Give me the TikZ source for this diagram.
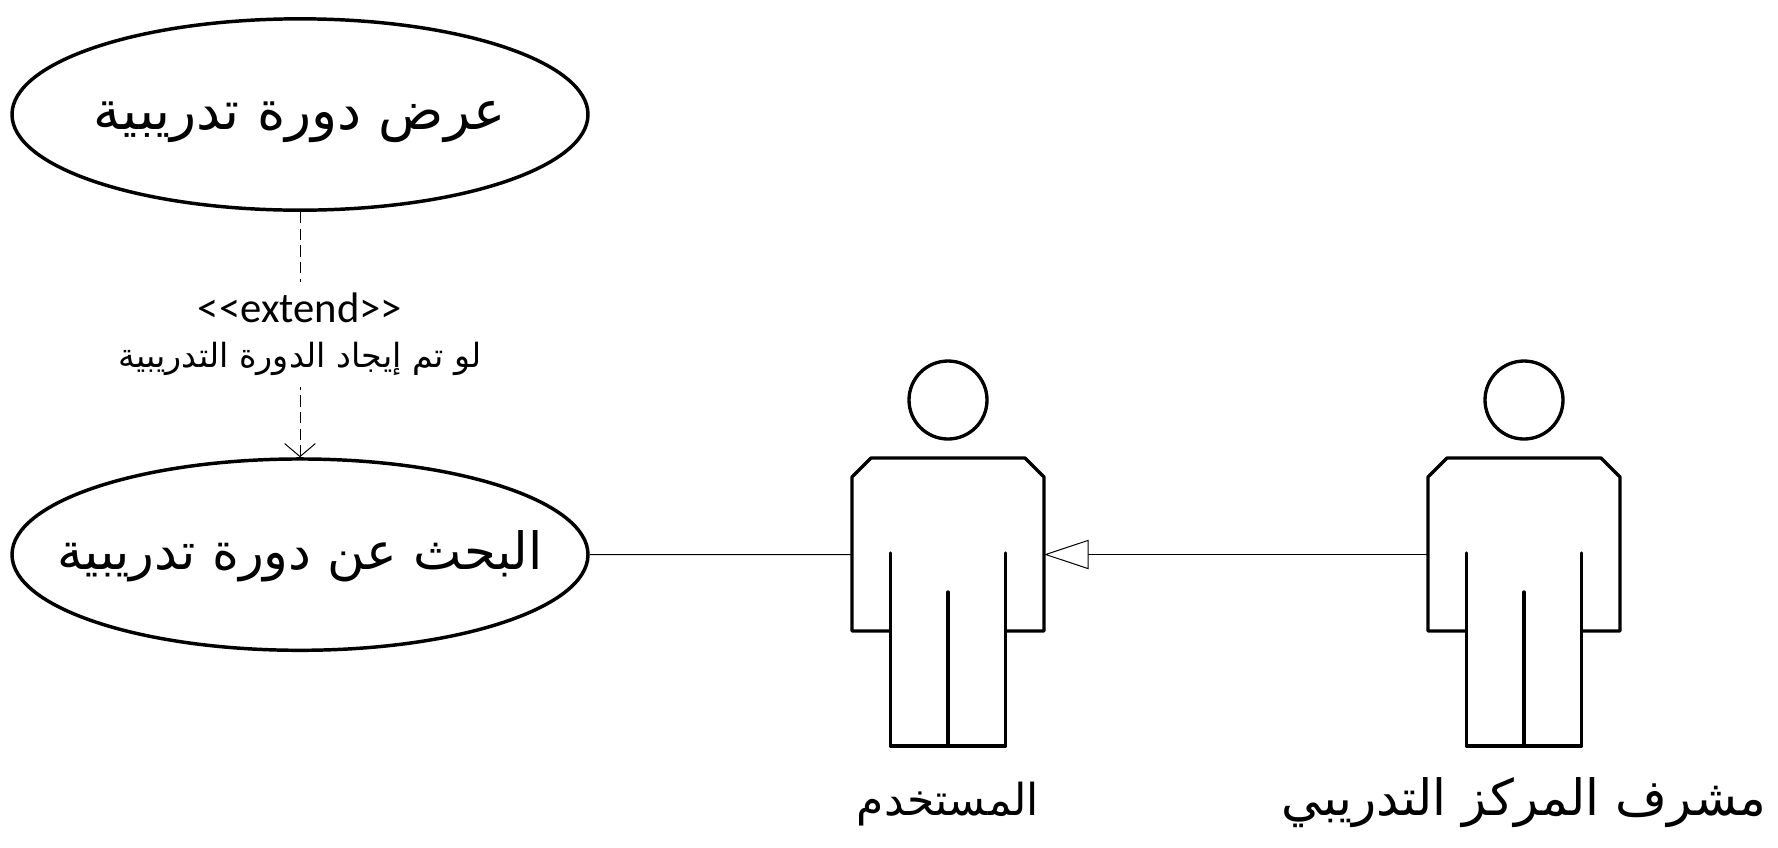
\documentclass[tikz,border=0pt]{standalone}
\usepackage{fontspec}
\setmainfont{Carlito}
\newfontfamily\arabicfont[Script=Arabic]{DejaVu Sans}
\TeXXeTstate=1
\usetikzlibrary{arrows.meta,positioning,shapes.geometric}
\tikzset{
  usecase/.style={ellipse,draw,line width=2.6pt,minimum width=432pt,minimum height=143.5pt,
                  inner xsep=-50pt,inner ysep=-10pt,text height=28pt,text depth=6pt},
  actorname/.style={inner sep=0pt,text height=32pt,text depth=8pt},
  link/.style={line width=0.75pt},
  actor/.pic={
    \draw[line width=2.5pt,line join=round,line cap=round] (0,400) circle[radius=39];
    \draw[line width=2.5pt,line join=round,line cap=round]
      (-57.5,631) -- (-96,631) -- (-96,477) -- (-77,458) -- (77,458) -- (96,477) -- (96,631) -- (57.5,631);
    \draw[line width=2.5pt,line join=round,line cap=round]
      (-57.5,553) -- (-57.5,746) -- (57.5,746) -- (57.5,553);
    \draw[line width=2.5pt,line cap=round] (0,592) -- (0,746);
    \coordinate (-hand) at (-96,554.5);
    \coordinate (-arm) at (96,554.5);
    \coordinate (-foot) at (0,746);
  }
}
\begin{document}
\begin{tikzpicture}[x=0.75pt,y=-0.75pt,node distance=184pt and 100pt]
\useasboundingbox (0,0) rectangle (1778,847);
\node[usecase,font=\arabicfont\fontsize{40.5}{46}\selectfont] (view) at (300,114.5) {\beginR عرض دورة تدريبية\endR};
\node[usecase,below=of view,font=\arabicfont\fontsize{38.5}{46}\selectfont] (search) {\beginR البحث عن دورة تدريبية\endR};
\pic (user) at (948,0) {actor};
\pic (admin) at (1524,0) {actor};
\node[actorname,below=20pt of user-foot,font=\arabicfont\fontsize{33}{40}\selectfont] (username) {\beginR المستخدم\endR};
\node[actorname,below=20pt of admin-foot,font=\arabicfont\fontsize{37.5}{44}\selectfont] (adminname) {\beginR مشرف المركز التدريبي\endR};
\draw[link,dash pattern=on 8.5pt off 4pt,-{Straight Barb[length=9.75pt,width=23pt]}] (view) -- node[fill=white,align=center,inner xsep=2pt,inner ysep=8pt,font=\fontsize{32}{36}\selectfont]
  {<{}<extend>{}>\\[-2pt]{\arabicfont\fontsize{25}{30}\selectfont\beginR لو تم إيجاد الدورة التدريبية\endR}} (search);
\draw[link] (search) -- (user-hand);
\draw[link,-{Triangle[open,length=33.5pt,width=22pt]}] (admin-hand) -- (user-arm);
\end{tikzpicture}
\end{document}
